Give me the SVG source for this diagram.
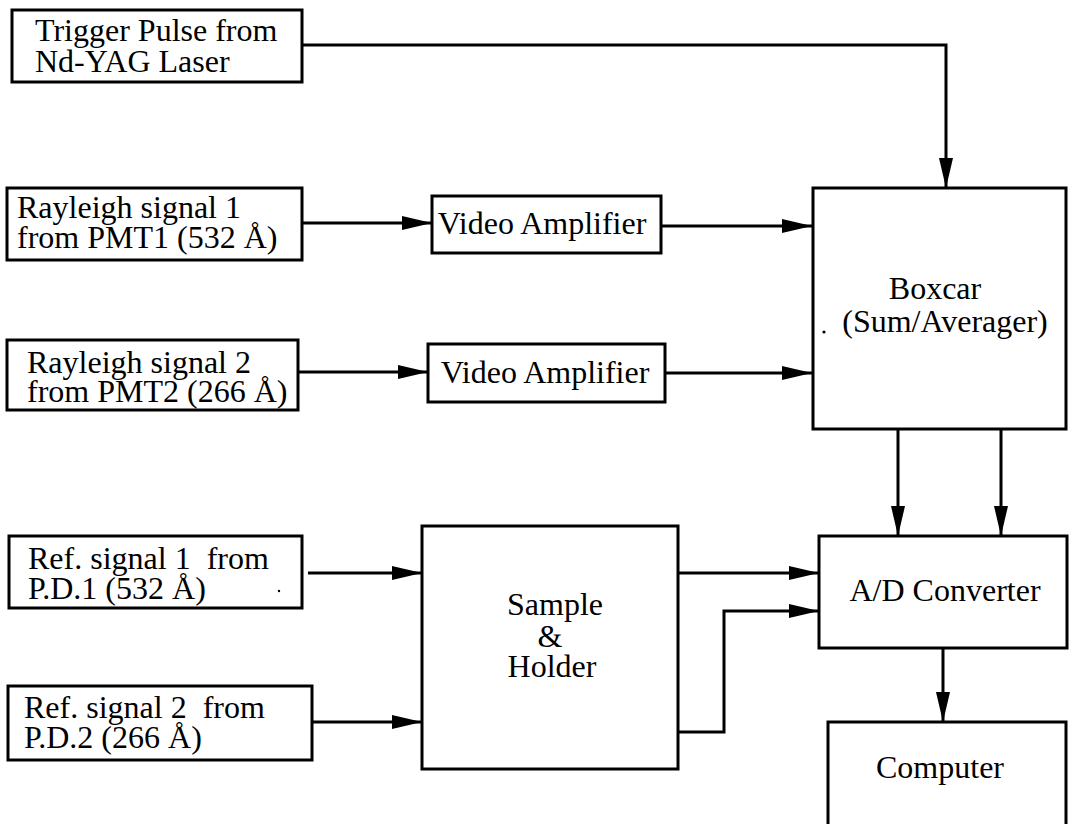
<svg xmlns="http://www.w3.org/2000/svg" width="1071" height="824" viewBox="0 0 1071 824">
<style>
  .box { fill: #fff; stroke: #000; stroke-width: 3; }
  .t { font-family: "Liberation Serif", "Times New Roman", serif; font-size: 32px; fill: #000; }
  .c { text-anchor: middle; }
  .ln { fill: none; stroke: #000; stroke-width: 3; }
</style>
<defs>
  <marker id="ah" viewBox="0 0 30 14" refX="30" refY="7" markerWidth="30" markerHeight="14" markerUnits="userSpaceOnUse" orient="auto">
    <path d="M0,0 L30,7 L0,14 z" fill="#000"/>
  </marker>
</defs>
<rect width="1071" height="824" fill="#fff"/>
<g id="connectors">
  <path class="ln" d="M302,45 H946 V188" marker-end="url(#ah)"/>
  <path class="ln" d="M302,223 H432" marker-end="url(#ah)"/>
  <path class="ln" d="M661,226 H812" marker-end="url(#ah)"/>
  <path class="ln" d="M298,372 H428" marker-end="url(#ah)"/>
  <path class="ln" d="M665,373 H812" marker-end="url(#ah)"/>
  <path class="ln" d="M898,429 V536" marker-end="url(#ah)"/>
  <path class="ln" d="M1001,429 V536" marker-end="url(#ah)"/>
  <path class="ln" d="M308,573 H422" marker-end="url(#ah)"/>
  <path class="ln" d="M312,722 H422" marker-end="url(#ah)"/>
  <path class="ln" d="M678,573 H819" marker-end="url(#ah)"/>
  <path class="ln" d="M678,732 H724 V611 H819" marker-end="url(#ah)"/>
  <path class="ln" d="M943,648 V722" marker-end="url(#ah)"/>
</g>
<g id="trigger">
  <rect class="box" x="12" y="10" width="290" height="72"/>
  <text class="t"><tspan x="35" y="41">Trigger Pulse from</tspan><tspan x="35" y="72">Nd-YAG Laser</tspan></text>
</g>
<g id="rayleigh1">
  <rect class="box" x="7" y="188" width="295" height="72"/>
  <text class="t"><tspan x="17" y="218">Rayleigh signal 1</tspan><tspan x="17" y="248">from PMT1 (532 Å)</tspan></text>
</g>
<g id="rayleigh2">
  <rect class="box" x="7" y="340" width="291" height="70"/>
  <text class="t"><tspan x="27" y="373">Rayleigh signal 2</tspan><tspan x="27" y="402">from PMT2 (266 Å)</tspan></text>
</g>
<g id="video1">
  <rect class="box" x="432" y="196" width="229" height="57"/>
  <text class="t c" x="542" y="234">Video Amplifier</text>
</g>
<g id="video2">
  <rect class="box" x="428" y="344" width="237" height="58"/>
  <text class="t c" x="545" y="383">Video Amplifier</text>
</g>
<g id="boxcar">
  <rect class="box" x="813" y="188" width="253" height="241"/>
  <text class="t c"><tspan x="935" y="299">Boxcar</tspan><tspan x="945" y="332">(Sum/Averager)</tspan></text>
  <circle cx="824" cy="332" r="1.6" fill="#000"/>
</g>
<g id="ref1">
  <rect class="box" x="9" y="536" width="293" height="72"/>
  <text class="t" xml:space="preserve"><tspan x="28" y="569">Ref. signal 1  from</tspan><tspan x="28" y="599">P.D.1 (532 Å)</tspan></text>
  <circle cx="279" cy="591" r="1.2" fill="#000"/>
</g>
<g id="ref2">
  <rect class="box" x="8" y="686" width="304" height="74"/>
  <text class="t" xml:space="preserve"><tspan x="24" y="718">Ref. signal 2  from</tspan><tspan x="24" y="748">P.D.2 (266 Å)</tspan></text>
</g>
<g id="sample">
  <rect class="box" x="422" y="526" width="256" height="243"/>
  <text class="t c"><tspan x="555" y="615">Sample</tspan><tspan x="550" y="647">&amp;</tspan><tspan x="552" y="677">Holder</tspan></text>
</g>
<g id="adc">
  <rect class="box" x="819" y="536" width="248" height="112"/>
  <text class="t c" x="945" y="601">A/D Converter</text>
</g>
<g id="computer">
  <rect class="box" x="828" y="722" width="238" height="120"/>
  <text class="t c" x="940" y="778">Computer</text>
</g>
</svg>
